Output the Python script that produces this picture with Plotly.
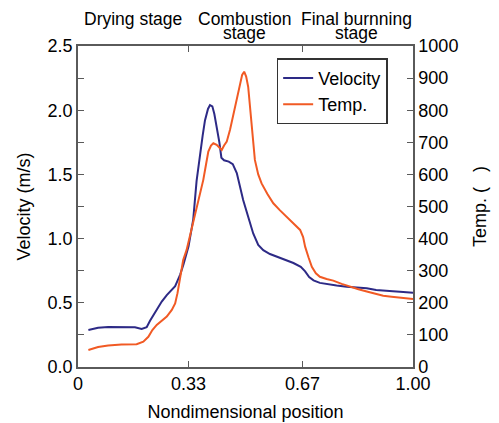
import plotly.graph_objects as go

vel_x = [0.031, 0.06, 0.09, 0.13, 0.17, 0.19, 0.205, 0.215, 0.235, 0.25, 0.265, 0.29, 0.305, 0.315,
         0.33, 0.344, 0.354, 0.364, 0.372, 0.379, 0.388, 0.394, 0.401, 0.407, 0.414, 0.422, 0.428,
         0.436, 0.45, 0.462, 0.474, 0.484, 0.493, 0.508, 0.523, 0.538, 0.553, 0.573, 0.593, 0.618,
         0.643, 0.665, 0.678, 0.69, 0.703, 0.722, 0.742, 0.772, 0.802, 0.832, 0.862, 0.89, 0.911,
         0.94, 0.961, 0.98, 1.0]
vel_y = [0.288, 0.305, 0.312, 0.312, 0.31, 0.296, 0.31, 0.36, 0.45, 0.51, 0.56, 0.63, 0.72, 0.80,
         0.94, 1.15, 1.45, 1.66, 1.80, 1.92, 2.01, 2.04, 2.03, 1.97, 1.87, 1.75, 1.63,
         1.61, 1.60, 1.58, 1.51, 1.40, 1.30, 1.17, 1.04, 0.95, 0.91, 0.88, 0.86, 0.835,
         0.81, 0.78, 0.745, 0.70, 0.675, 0.655, 0.645, 0.635, 0.625, 0.62, 0.613, 0.60, 0.594,
         0.59, 0.586, 0.582, 0.578]

temp_x = [0.031, 0.06, 0.09, 0.13, 0.175, 0.195, 0.21, 0.222, 0.235, 0.25, 0.265, 0.28, 0.29,
          0.297, 0.304, 0.314, 0.324, 0.336, 0.349, 0.362, 0.374, 0.382, 0.389, 0.397, 0.404,
          0.414, 0.422, 0.429, 0.436, 0.444, 0.454, 0.464, 0.474, 0.484, 0.49, 0.496, 0.502,
          0.508, 0.516, 0.522, 0.528, 0.538, 0.548, 0.565, 0.583, 0.603, 0.623, 0.643, 0.663,
          0.672, 0.678, 0.688, 0.698, 0.71, 0.722, 0.742, 0.762, 0.787, 0.812, 0.837, 0.862,
          0.887, 0.911, 0.936, 0.961, 0.98, 1.0]
temp_y = [53, 62, 67, 70, 71, 79, 94, 115, 131, 145, 157, 178, 198,
          230, 271, 333, 364, 415, 468, 525, 583, 630, 671, 690, 697,
          692, 682, 676, 690, 702, 740, 785, 830, 879, 910, 920, 905,
          873, 790, 720, 645, 600, 572, 540, 510, 488, 468, 448, 427,
          405, 375, 342, 312, 292, 281, 274, 269, 259, 250, 242, 235,
          228, 222, 219, 216, 215, 212]

x_tickvals = [0, 0.33, 0.67, 1.0]
x_ticktext = ["0", "0.33", "0.67", "1.00"]
stage_line1 = ["Drying stage", "Combustion", "Final burnning"]
stage_line2 = ["", "stage", "stage"]
stage_pos = [0.165, 0.498, 0.83]

FONT = "Liberation Sans, Arial, sans-serif"
AX = "#5a5a5a"

fig = go.Figure()
fig.add_trace(go.Scatter(x=vel_x, y=vel_y, mode="lines", name="Velocity",
                         line=dict(color="#2d2a86", width=2)))
fig.add_trace(go.Scatter(x=temp_x, y=temp_y, mode="lines", name="Temp.", yaxis="y2",
                         line=dict(color="#f15a24", width=2)))

for l1, l2, p in zip(stage_line1, stage_line2, stage_pos):
    fig.add_annotation(x=p, y=1.083, xref="paper", yref="paper", text=l1, showarrow=False,
                       xanchor="center", yanchor="middle",
                       font=dict(size=17.5, color="black", family=FONT))
    if l2:
        fig.add_annotation(x=p, y=1.040, xref="paper", yref="paper", text=l2, showarrow=False,
                           xanchor="center", yanchor="middle",
                           font=dict(size=17.5, color="black", family=FONT))

fig.update_layout(
    width=491, height=415,
    margin=dict(l=70, r=86, t=38, b=56),
    paper_bgcolor="white", plot_bgcolor="white",
    font=dict(family=FONT, color="black", size=18),
    showlegend=True,
    legend=dict(x=0.593, y=0.962, xanchor="left", yanchor="top",
                bordercolor="#333333", borderwidth=1.5, bgcolor="white",
                font=dict(size=18), itemwidth=30, tracegroupgap=0),
    xaxis=dict(range=[0, 1], tickvals=x_tickvals, ticktext=x_ticktext, automargin=False,
               ticks="inside", ticklen=6, tickcolor=AX, showline=True, linecolor=AX,
               linewidth=1.5, mirror="ticks", showgrid=False, zeroline=False,
               tickfont=dict(size=18),
               title=dict(text="Nondimensional position", font=dict(size=18), standoff=12)),
    yaxis=dict(range=[0, 2.5], dtick=0.5, tickformat=".1f", ticks="inside", ticklen=6,
               tickcolor=AX, showline=True, linecolor=AX, linewidth=1.5, showgrid=False,
               zeroline=False, tickfont=dict(size=18), automargin=False,
               minor=dict(dtick=0.25, ticks="inside", ticklen=6, tickcolor=AX),
               title=dict(text="Velocity (m/s)", font=dict(size=18), standoff=12)),
    yaxis2=dict(range=[0, 1000], dtick=100, overlaying="y", side="right", ticks="inside",
                ticklen=6, tickcolor=AX, showline=True, linecolor=AX, linewidth=1.5,
                showgrid=False, zeroline=False, tickfont=dict(size=18), automargin=False,
                title=dict(text="Temp. (   )", font=dict(size=18), standoff=16)),
)

fig.write_html("out.html")
